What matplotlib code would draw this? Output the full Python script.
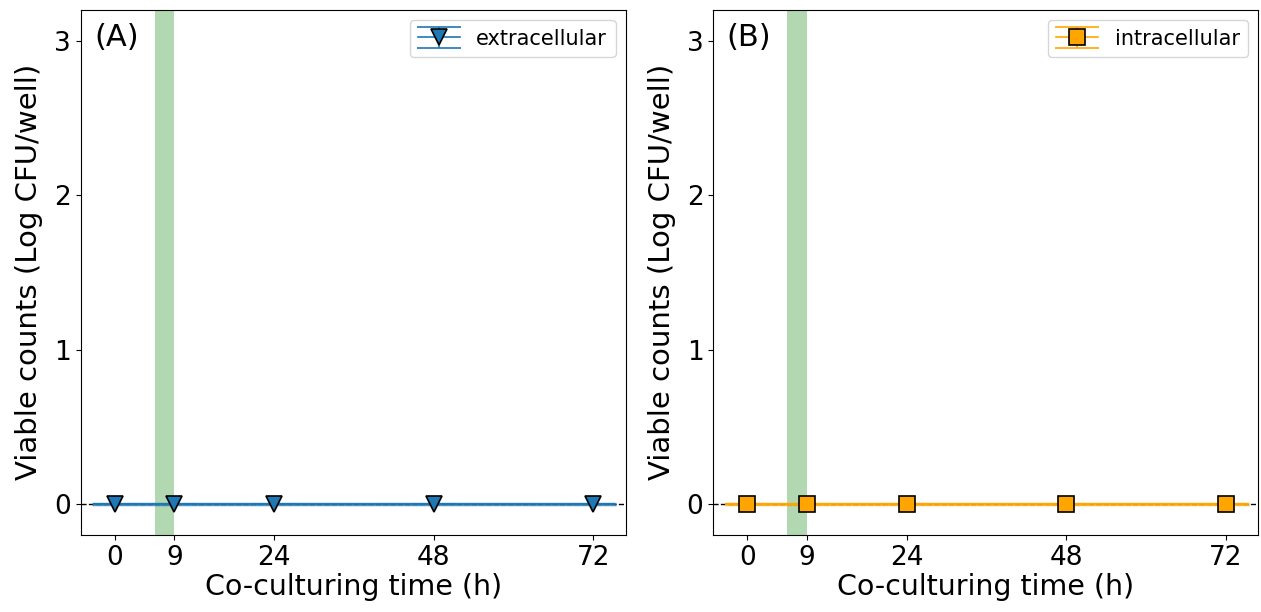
import matplotlib.pyplot as plt

# co-culturing time points (h) and viable counts (log CFU/well)
hours = [0, 9, 24, 48, 72]
extracellular = [0, 0, 0, 0, 0]
extracellular_err = [0, 0, 0, 0, 0]
intracellular = [0, 0, 0, 0, 0]
intracellular_err = [0, 0, 0, 0, 0]
panels = ['(A)', '(B)']
series_names = ['extracellular', 'intracellular']

fig, axes = plt.subplots(1, 2, figsize=(12.61, 6.12), dpi=100)
fig.subplots_adjust(left=0.064, right=0.998, top=0.984, bottom=0.126, wspace=0.16)

styles = [('tab:blue', 'v'), ('orange', 's')]
values = [(extracellular, extracellular_err), (intracellular, intracellular_err)]

for ax, label, name, (color, marker), (y, err) in zip(axes, panels, series_names, styles, values):
    ax.axvspan(6, 9, color='green', alpha=0.3, lw=0)
    ax.axhline(0, color='k', ls='--', lw=1, zorder=2)
    ax.hlines(0, -3.4, 75.4, color=color, lw=2.5, alpha=0.75, zorder=2.5)
    ax.errorbar(hours, y, yerr=err, color=color, marker=marker, markersize=11,
                markeredgecolor='k', markeredgewidth=1.2, capsize=16, lw=1.2,
                label=name, zorder=3)
    ax.set_xlim(-5.1, 76.9)
    ax.set_ylim(-0.2, 3.2)
    ax.set_xticks(hours)
    ax.set_yticks([0, 1, 2, 3])
    ax.tick_params(labelsize=19)
    ax.set_xlabel('Co-culturing time (h)', fontsize=20.5, labelpad=2)
    ax.set_ylabel('Viable counts (Log CFU/well)', fontsize=21, labelpad=8)
    ax.text(0.025, 0.975, label, transform=ax.transAxes, fontsize=22, va='top', ha='left')
    ax.legend(loc='upper right', fontsize=15, markerscale=1.0)

plt.savefig('out.png')
